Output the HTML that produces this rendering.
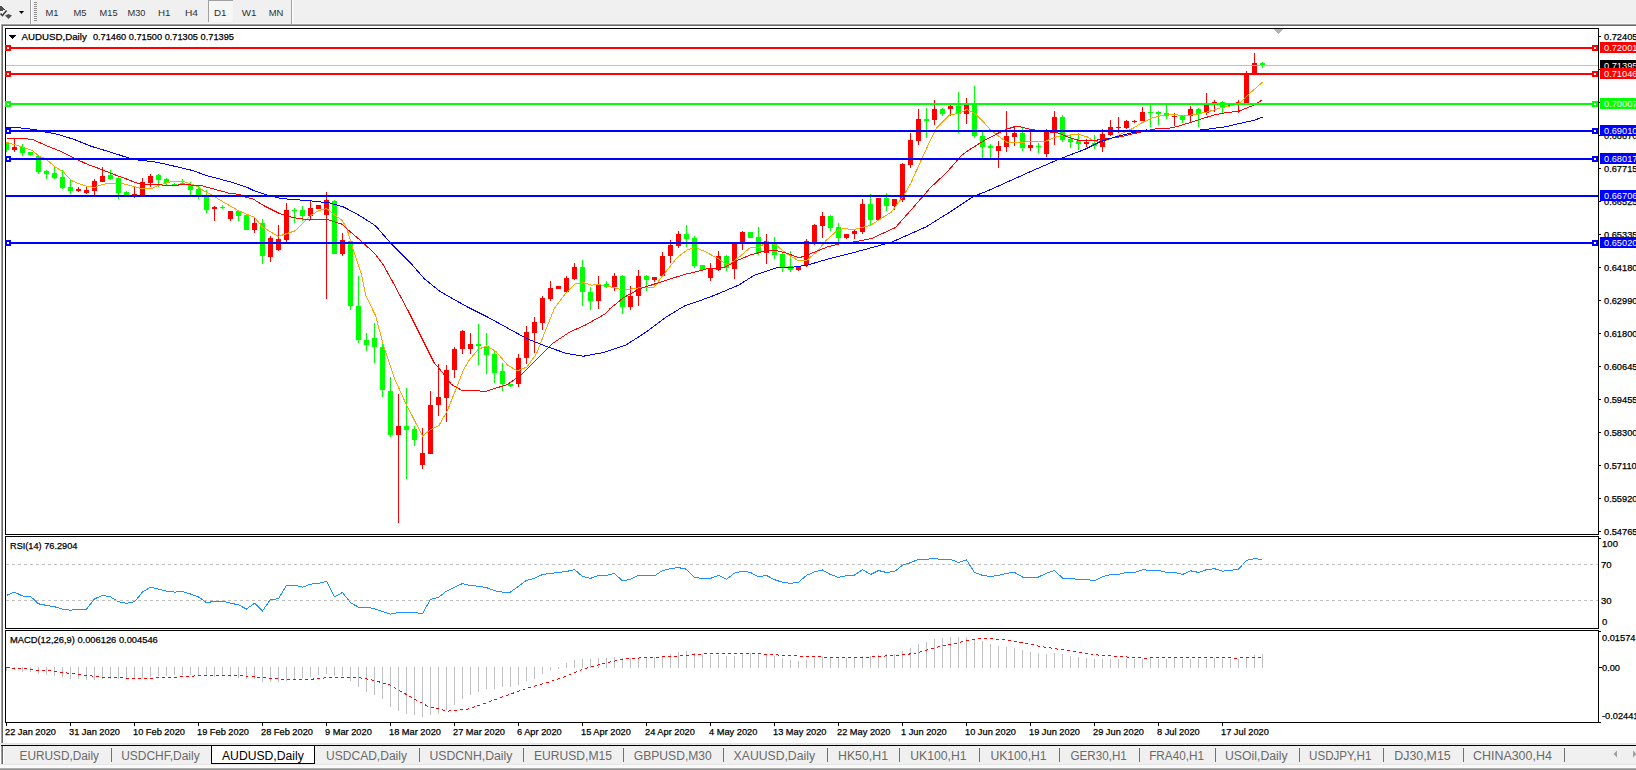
<!DOCTYPE html><html><head><meta charset="utf-8"><style>html,body{margin:0;padding:0;width:1636px;height:770px;overflow:hidden;background:#fff}svg{display:block}text{font-family:'Liberation Sans',sans-serif} text.b{stroke:currentColor;stroke-width:0.25px}</style></head><body>
<svg width="1636" height="770" viewBox="0 0 1636 770" shape-rendering="crispEdges">
<rect x="0" y="0" width="1636" height="770" fill="#ffffff"/>
<rect x="0" y="0" width="1636" height="24" fill="#f0f0f0"/>
<rect x="0" y="23" width="1636" height="1" fill="#f6f6f6"/>
<rect x="1" y="24" width="1636" height="1" fill="#a0a0a0"/>
<rect x="2" y="25" width="1636" height="1" fill="#696969"/>
<rect x="1" y="24" width="1" height="719" fill="#a0a0a0"/>
<rect x="2" y="25" width="1" height="718" fill="#696969"/>
<rect x="0" y="743" width="1636" height="1" fill="#e4e4e4"/>
<rect x="5.5" y="28.5" width="1593" height="506" fill="none" stroke="#000" stroke-width="1"/>
<rect x="5.5" y="536.5" width="1593" height="92" fill="none" stroke="#000" stroke-width="1"/>
<rect x="5.5" y="630.5" width="1593" height="92" fill="none" stroke="#000" stroke-width="1"/>
<rect x="30" y="0" width="1" height="24" fill="#a0a0a0"/>
<rect x="31" y="0" width="1" height="24" fill="#ffffff"/>
<rect x="34" y="2" width="3" height="1" fill="#909090"/>
<rect x="34" y="4" width="3" height="1" fill="#909090"/>
<rect x="34" y="6" width="3" height="1" fill="#909090"/>
<rect x="34" y="8" width="3" height="1" fill="#909090"/>
<rect x="34" y="10" width="3" height="1" fill="#909090"/>
<rect x="34" y="12" width="3" height="1" fill="#909090"/>
<rect x="34" y="14" width="3" height="1" fill="#909090"/>
<rect x="34" y="16" width="3" height="1" fill="#909090"/>
<rect x="34" y="18" width="3" height="1" fill="#909090"/>
<rect x="34" y="20" width="3" height="1" fill="#909090"/>
<rect x="291" y="0" width="1" height="24" fill="#a0a0a0"/>
<rect x="292" y="0" width="1" height="24" fill="#ffffff"/>
<rect x="208" y="0" width="25" height="22" fill="#f6f6f6"/>
<rect x="208" y="0" width="1" height="22" fill="#a0a0a0"/>
<rect x="208" y="0" width="25" height="1" fill="#a0a0a0"/>
<text x="45.5" y="16" font-size="9.5" fill="#303030" text-anchor="start" font-weight="normal" textLength="13" lengthAdjust="spacingAndGlyphs">M1</text>
<text x="73.4" y="16" font-size="9.5" fill="#303030" text-anchor="start" font-weight="normal" textLength="13" lengthAdjust="spacingAndGlyphs">M5</text>
<text x="99.6" y="16" font-size="9.5" fill="#303030" text-anchor="start" font-weight="normal" textLength="18" lengthAdjust="spacingAndGlyphs">M15</text>
<text x="127.5" y="16" font-size="9.5" fill="#303030" text-anchor="start" font-weight="normal" textLength="18" lengthAdjust="spacingAndGlyphs">M30</text>
<text x="158" y="16" font-size="9.5" fill="#303030" text-anchor="start" font-weight="normal" textLength="12.5" lengthAdjust="spacingAndGlyphs">H1</text>
<text x="185" y="16" font-size="9.5" fill="#303030" text-anchor="start" font-weight="normal" textLength="13" lengthAdjust="spacingAndGlyphs">H4</text>
<text x="214" y="16" font-size="9.5" fill="#303030" text-anchor="start" font-weight="normal" textLength="12.5" lengthAdjust="spacingAndGlyphs">D1</text>
<text x="241.7" y="16" font-size="9.5" fill="#303030" text-anchor="start" font-weight="normal" textLength="14.7" lengthAdjust="spacingAndGlyphs">W1</text>
<text x="268.7" y="16" font-size="9.5" fill="#303030" text-anchor="start" font-weight="normal" textLength="14.6" lengthAdjust="spacingAndGlyphs">MN</text>
<path d="M0 6.5 L1.5 6 L5 9.3 L3.5 10.5 L0 10.5 Z" fill="#505050"/>
<path d="M0.5 13.5 L2.4 15.5 L6.6 10.4" stroke="#404040" stroke-width="1.6" fill="none" shape-rendering="geometricPrecision"/>
<path d="M5 15.5 L8.5 14 L12 15.5 L8.5 19 Z" fill="#505050" shape-rendering="geometricPrecision"/>
<path d="M19 11 L24 11 L21.5 14 Z" fill="#000" shape-rendering="geometricPrecision"/>
<rect x="3" y="746" width="1633" height="18" fill="#f0f0f0"/>
<rect x="0" y="744" width="1636" height="1" fill="#e8e8e8"/>
<rect x="1" y="745" width="1636" height="1" fill="#000"/>
<rect x="1" y="746" width="1" height="18" fill="#a0a0a0"/>
<rect x="2" y="746" width="1" height="18" fill="#696969"/>
<rect x="3" y="746" width="1" height="18" fill="#ffffff"/>
<rect x="0" y="764" width="1636" height="1" fill="#e6e6e6"/>
<rect x="0" y="765" width="1636" height="3" fill="#fafafa"/>
<rect x="0" y="768" width="1636" height="1" fill="#b0b0b0"/>
<rect x="0" y="769" width="1636" height="1" fill="#909090"/>
<rect x="211" y="745" width="104" height="19" fill="#000"/>
<rect x="212" y="746" width="102" height="17" fill="#fff"/>
<text x="19.5" y="760" font-size="12" fill="#6a6a6a" text-anchor="start" font-weight="normal" textLength="79.5" lengthAdjust="spacingAndGlyphs">EURUSD,Daily</text>
<text x="121.2" y="760" font-size="12" fill="#6a6a6a" text-anchor="start" font-weight="normal" textLength="78.5" lengthAdjust="spacingAndGlyphs">USDCHF,Daily</text>
<text x="326" y="760" font-size="12" fill="#6a6a6a" text-anchor="start" font-weight="normal" textLength="81" lengthAdjust="spacingAndGlyphs">USDCAD,Daily</text>
<text x="429.4" y="760" font-size="12" fill="#6a6a6a" text-anchor="start" font-weight="normal" textLength="83" lengthAdjust="spacingAndGlyphs">USDCNH,Daily</text>
<text x="534" y="760" font-size="12" fill="#6a6a6a" text-anchor="start" font-weight="normal" textLength="78" lengthAdjust="spacingAndGlyphs">EURUSD,M15</text>
<text x="633.8" y="760" font-size="12" fill="#6a6a6a" text-anchor="start" font-weight="normal" textLength="78" lengthAdjust="spacingAndGlyphs">GBPUSD,M30</text>
<text x="733.6" y="760" font-size="12" fill="#6a6a6a" text-anchor="start" font-weight="normal" textLength="81.4" lengthAdjust="spacingAndGlyphs">XAUUSD,Daily</text>
<text x="838" y="760" font-size="12" fill="#6a6a6a" text-anchor="start" font-weight="normal" textLength="50" lengthAdjust="spacingAndGlyphs">HK50,H1</text>
<text x="910.3" y="760" font-size="12" fill="#6a6a6a" text-anchor="start" font-weight="normal" textLength="56.2" lengthAdjust="spacingAndGlyphs">UK100,H1</text>
<text x="990.4" y="760" font-size="12" fill="#6a6a6a" text-anchor="start" font-weight="normal" textLength="56.2" lengthAdjust="spacingAndGlyphs">UK100,H1</text>
<text x="1070.5" y="760" font-size="12" fill="#6a6a6a" text-anchor="start" font-weight="normal" textLength="56.3" lengthAdjust="spacingAndGlyphs">GER30,H1</text>
<text x="1149.2" y="760" font-size="12" fill="#6a6a6a" text-anchor="start" font-weight="normal" textLength="54.8" lengthAdjust="spacingAndGlyphs">FRA40,H1</text>
<text x="1225" y="760" font-size="12" fill="#6a6a6a" text-anchor="start" font-weight="normal" textLength="62.6" lengthAdjust="spacingAndGlyphs">USOil,Daily</text>
<text x="1309" y="760" font-size="12" fill="#6a6a6a" text-anchor="start" font-weight="normal" textLength="62.4" lengthAdjust="spacingAndGlyphs">USDJPY,H1</text>
<text x="1394.3" y="760" font-size="12" fill="#6a6a6a" text-anchor="start" font-weight="normal" textLength="56.4" lengthAdjust="spacingAndGlyphs">DJ30,M15</text>
<text x="1473" y="760" font-size="12" fill="#6a6a6a" text-anchor="start" font-weight="normal" textLength="78.8" lengthAdjust="spacingAndGlyphs">CHINA300,H4</text>
<text x="222" y="760" font-size="12" fill="#000" text-anchor="start" font-weight="normal" textLength="81.8" lengthAdjust="spacingAndGlyphs">AUDUSD,Daily</text>
<rect x="111" y="748" width="1" height="14" fill="#707070"/>
<rect x="419" y="748" width="1" height="14" fill="#707070"/>
<rect x="523" y="748" width="1" height="14" fill="#707070"/>
<rect x="623" y="748" width="1" height="14" fill="#707070"/>
<rect x="723" y="748" width="1" height="14" fill="#707070"/>
<rect x="827" y="748" width="1" height="14" fill="#707070"/>
<rect x="899" y="748" width="1" height="14" fill="#707070"/>
<rect x="979" y="748" width="1" height="14" fill="#707070"/>
<rect x="1059" y="748" width="1" height="14" fill="#707070"/>
<rect x="1139" y="748" width="1" height="14" fill="#707070"/>
<rect x="1215" y="748" width="1" height="14" fill="#707070"/>
<rect x="1299" y="748" width="1" height="14" fill="#707070"/>
<rect x="1383" y="748" width="1" height="14" fill="#707070"/>
<rect x="1463" y="748" width="1" height="14" fill="#707070"/>
<rect x="1564" y="748" width="1" height="14" fill="#707070"/>
<path d="M1613.5 754 L1617 750.5 L1617 757.5 Z" fill="#a0a0a0" shape-rendering="geometricPrecision"/>
<path d="M1633 750.5 L1636.5 754 L1633 757.5 Z" fill="#a0a0a0" shape-rendering="geometricPrecision"/>
<defs><clipPath id="cm"><rect x="6" y="29" width="1592" height="505"/></clipPath><clipPath id="cr"><rect x="6" y="537" width="1592" height="91"/></clipPath><clipPath id="cd"><rect x="6" y="631" width="1592" height="91"/></clipPath></defs>
<g clip-path="url(#cm)">
<rect x="6" y="142" width="1" height="10" fill="#00ff00"/>
<rect x="4" y="143" width="5" height="7" fill="#00ff00"/>
<rect x="14" y="138" width="1" height="14" fill="#ff0000"/>
<rect x="12" y="147" width="5" height="3" fill="#ff0000"/>
<rect x="22" y="144" width="1" height="12" fill="#00ff00"/>
<rect x="20" y="147" width="5" height="6" fill="#00ff00"/>
<rect x="30" y="152" width="1" height="4" fill="#00ff00"/>
<rect x="28" y="152" width="5" height="3" fill="#00ff00"/>
<rect x="38" y="156" width="1" height="18" fill="#00ff00"/>
<rect x="36" y="156" width="5" height="16" fill="#00ff00"/>
<rect x="46" y="170" width="1" height="9" fill="#00ff00"/>
<rect x="44" y="171" width="5" height="3" fill="#00ff00"/>
<rect x="54" y="167" width="1" height="12" fill="#00ff00"/>
<rect x="52" y="173" width="5" height="5" fill="#00ff00"/>
<rect x="62" y="170" width="1" height="19" fill="#00ff00"/>
<rect x="60" y="177" width="5" height="11" fill="#00ff00"/>
<rect x="70" y="180" width="1" height="14" fill="#00ff00"/>
<rect x="68" y="187" width="5" height="4" fill="#00ff00"/>
<rect x="78" y="187" width="1" height="5" fill="#ff0000"/>
<rect x="76" y="189" width="5" height="2" fill="#ff0000"/>
<rect x="86" y="187" width="1" height="7" fill="#ff0000"/>
<rect x="84" y="190" width="5" height="3" fill="#ff0000"/>
<rect x="94" y="179" width="1" height="16" fill="#ff0000"/>
<rect x="92" y="181" width="5" height="10" fill="#ff0000"/>
<rect x="102" y="167" width="1" height="15" fill="#ff0000"/>
<rect x="100" y="176" width="5" height="6" fill="#ff0000"/>
<rect x="110" y="170" width="1" height="10" fill="#00ff00"/>
<rect x="108" y="175" width="5" height="4" fill="#00ff00"/>
<rect x="118" y="176" width="1" height="23" fill="#00ff00"/>
<rect x="116" y="178" width="5" height="15" fill="#00ff00"/>
<rect x="126" y="191" width="1" height="5" fill="#00ff00"/>
<rect x="124" y="192" width="5" height="3" fill="#00ff00"/>
<rect x="134" y="186" width="1" height="12" fill="#ff0000"/>
<rect x="132" y="194" width="5" height="2" fill="#ff0000"/>
<rect x="142" y="178" width="1" height="18" fill="#ff0000"/>
<rect x="140" y="182" width="5" height="13" fill="#ff0000"/>
<rect x="150" y="174" width="1" height="13" fill="#ff0000"/>
<rect x="148" y="176" width="5" height="7" fill="#ff0000"/>
<rect x="158" y="174" width="1" height="13" fill="#00ff00"/>
<rect x="156" y="175" width="5" height="5" fill="#00ff00"/>
<rect x="166" y="178" width="1" height="7" fill="#00ff00"/>
<rect x="164" y="179" width="5" height="4" fill="#00ff00"/>
<rect x="174" y="183" width="1" height="2" fill="#00ff00"/>
<rect x="172" y="184" width="5" height="1" fill="#00ff00"/>
<rect x="182" y="179" width="1" height="5" fill="#00ff00"/>
<rect x="180" y="183" width="5" height="1" fill="#00ff00"/>
<rect x="190" y="182" width="1" height="13" fill="#00ff00"/>
<rect x="188" y="185" width="5" height="5" fill="#00ff00"/>
<rect x="198" y="186" width="1" height="13" fill="#00ff00"/>
<rect x="196" y="189" width="5" height="6" fill="#00ff00"/>
<rect x="206" y="190" width="1" height="23" fill="#00ff00"/>
<rect x="204" y="197" width="5" height="13" fill="#00ff00"/>
<rect x="214" y="206" width="1" height="15" fill="#ff0000"/>
<rect x="212" y="207" width="5" height="2" fill="#ff0000"/>
<rect x="222" y="205" width="1" height="4" fill="#00ff00"/>
<rect x="220" y="207" width="5" height="1" fill="#00ff00"/>
<rect x="230" y="211" width="1" height="10" fill="#ff0000"/>
<rect x="228" y="211" width="5" height="8" fill="#ff0000"/>
<rect x="238" y="211" width="1" height="10" fill="#00ff00"/>
<rect x="236" y="211" width="5" height="5" fill="#00ff00"/>
<rect x="246" y="215" width="1" height="15" fill="#00ff00"/>
<rect x="244" y="215" width="5" height="15" fill="#00ff00"/>
<rect x="254" y="218" width="1" height="15" fill="#ff0000"/>
<rect x="252" y="223" width="5" height="7" fill="#ff0000"/>
<rect x="262" y="219" width="1" height="45" fill="#00ff00"/>
<rect x="260" y="223" width="5" height="33" fill="#00ff00"/>
<rect x="270" y="236" width="1" height="26" fill="#ff0000"/>
<rect x="268" y="238" width="5" height="19" fill="#ff0000"/>
<rect x="278" y="225" width="1" height="26" fill="#ff0000"/>
<rect x="276" y="239" width="5" height="11" fill="#ff0000"/>
<rect x="286" y="203" width="1" height="39" fill="#ff0000"/>
<rect x="284" y="210" width="5" height="30" fill="#ff0000"/>
<rect x="294" y="208" width="1" height="15" fill="#00ff00"/>
<rect x="292" y="210" width="5" height="1" fill="#00ff00"/>
<rect x="302" y="206" width="1" height="15" fill="#00ff00"/>
<rect x="300" y="210" width="5" height="6" fill="#00ff00"/>
<rect x="310" y="200" width="1" height="20" fill="#ff0000"/>
<rect x="308" y="208" width="5" height="8" fill="#ff0000"/>
<rect x="318" y="205" width="1" height="4" fill="#ff0000"/>
<rect x="316" y="205" width="5" height="4" fill="#ff0000"/>
<rect x="326" y="192" width="1" height="107" fill="#ff0000"/>
<rect x="324" y="200" width="5" height="15" fill="#ff0000"/>
<rect x="334" y="200" width="1" height="54" fill="#00ff00"/>
<rect x="332" y="201" width="5" height="53" fill="#00ff00"/>
<rect x="342" y="233" width="1" height="23" fill="#ff0000"/>
<rect x="340" y="240" width="5" height="14" fill="#ff0000"/>
<rect x="350" y="239" width="1" height="71" fill="#00ff00"/>
<rect x="348" y="241" width="5" height="65" fill="#00ff00"/>
<rect x="358" y="276" width="1" height="67" fill="#00ff00"/>
<rect x="356" y="306" width="5" height="34" fill="#00ff00"/>
<rect x="366" y="333" width="1" height="18" fill="#00ff00"/>
<rect x="364" y="340" width="5" height="5" fill="#00ff00"/>
<rect x="374" y="323" width="1" height="40" fill="#00ff00"/>
<rect x="372" y="338" width="5" height="9" fill="#00ff00"/>
<rect x="382" y="343" width="1" height="54" fill="#00ff00"/>
<rect x="380" y="347" width="5" height="43" fill="#00ff00"/>
<rect x="390" y="377" width="1" height="60" fill="#00ff00"/>
<rect x="388" y="391" width="5" height="44" fill="#00ff00"/>
<rect x="398" y="394" width="1" height="129" fill="#ff0000"/>
<rect x="396" y="426" width="5" height="9" fill="#ff0000"/>
<rect x="406" y="388" width="1" height="91" fill="#00ff00"/>
<rect x="404" y="426" width="5" height="4" fill="#00ff00"/>
<rect x="414" y="426" width="1" height="20" fill="#00ff00"/>
<rect x="412" y="429" width="5" height="11" fill="#00ff00"/>
<rect x="422" y="428" width="1" height="41" fill="#ff0000"/>
<rect x="420" y="453" width="5" height="12" fill="#ff0000"/>
<rect x="430" y="391" width="1" height="63" fill="#ff0000"/>
<rect x="428" y="405" width="5" height="49" fill="#ff0000"/>
<rect x="438" y="364" width="1" height="52" fill="#ff0000"/>
<rect x="436" y="397" width="5" height="8" fill="#ff0000"/>
<rect x="446" y="365" width="1" height="57" fill="#ff0000"/>
<rect x="444" y="370" width="5" height="28" fill="#ff0000"/>
<rect x="454" y="347" width="1" height="31" fill="#ff0000"/>
<rect x="452" y="349" width="5" height="21" fill="#ff0000"/>
<rect x="462" y="330" width="1" height="24" fill="#ff0000"/>
<rect x="460" y="331" width="5" height="18" fill="#ff0000"/>
<rect x="470" y="333" width="1" height="21" fill="#ff0000"/>
<rect x="468" y="344" width="5" height="5" fill="#ff0000"/>
<rect x="478" y="324" width="1" height="41" fill="#00ff00"/>
<rect x="476" y="344" width="5" height="2" fill="#00ff00"/>
<rect x="486" y="333" width="1" height="41" fill="#00ff00"/>
<rect x="484" y="346" width="5" height="9" fill="#00ff00"/>
<rect x="494" y="351" width="1" height="32" fill="#00ff00"/>
<rect x="492" y="354" width="5" height="19" fill="#00ff00"/>
<rect x="502" y="363" width="1" height="28" fill="#00ff00"/>
<rect x="500" y="371" width="5" height="13" fill="#00ff00"/>
<rect x="510" y="384" width="1" height="3" fill="#00ff00"/>
<rect x="508" y="384" width="5" height="2" fill="#00ff00"/>
<rect x="518" y="354" width="1" height="33" fill="#ff0000"/>
<rect x="516" y="358" width="5" height="26" fill="#ff0000"/>
<rect x="526" y="326" width="1" height="38" fill="#ff0000"/>
<rect x="524" y="332" width="5" height="26" fill="#ff0000"/>
<rect x="534" y="317" width="1" height="36" fill="#ff0000"/>
<rect x="532" y="322" width="5" height="11" fill="#ff0000"/>
<rect x="542" y="296" width="1" height="34" fill="#ff0000"/>
<rect x="540" y="298" width="5" height="25" fill="#ff0000"/>
<rect x="550" y="281" width="1" height="20" fill="#ff0000"/>
<rect x="548" y="288" width="5" height="11" fill="#ff0000"/>
<rect x="558" y="286" width="1" height="3" fill="#ff0000"/>
<rect x="556" y="286" width="5" height="3" fill="#ff0000"/>
<rect x="566" y="276" width="1" height="16" fill="#ff0000"/>
<rect x="564" y="278" width="5" height="14" fill="#ff0000"/>
<rect x="574" y="263" width="1" height="17" fill="#ff0000"/>
<rect x="572" y="267" width="5" height="12" fill="#ff0000"/>
<rect x="582" y="260" width="1" height="46" fill="#00ff00"/>
<rect x="580" y="267" width="5" height="25" fill="#00ff00"/>
<rect x="590" y="287" width="1" height="23" fill="#00ff00"/>
<rect x="588" y="292" width="5" height="9" fill="#00ff00"/>
<rect x="598" y="276" width="1" height="33" fill="#ff0000"/>
<rect x="596" y="285" width="5" height="16" fill="#ff0000"/>
<rect x="606" y="281" width="1" height="7" fill="#00ff00"/>
<rect x="604" y="284" width="5" height="3" fill="#00ff00"/>
<rect x="614" y="273" width="1" height="18" fill="#ff0000"/>
<rect x="612" y="276" width="5" height="11" fill="#ff0000"/>
<rect x="622" y="275" width="1" height="39" fill="#00ff00"/>
<rect x="620" y="276" width="5" height="31" fill="#00ff00"/>
<rect x="630" y="286" width="1" height="24" fill="#ff0000"/>
<rect x="628" y="296" width="5" height="11" fill="#ff0000"/>
<rect x="638" y="270" width="1" height="36" fill="#ff0000"/>
<rect x="636" y="276" width="5" height="20" fill="#ff0000"/>
<rect x="646" y="275" width="1" height="16" fill="#00ff00"/>
<rect x="644" y="276" width="5" height="4" fill="#00ff00"/>
<rect x="654" y="277" width="1" height="5" fill="#ff0000"/>
<rect x="652" y="277" width="5" height="3" fill="#ff0000"/>
<rect x="662" y="252" width="1" height="25" fill="#ff0000"/>
<rect x="660" y="256" width="5" height="20" fill="#ff0000"/>
<rect x="670" y="240" width="1" height="23" fill="#ff0000"/>
<rect x="668" y="245" width="5" height="11" fill="#ff0000"/>
<rect x="678" y="231" width="1" height="17" fill="#ff0000"/>
<rect x="676" y="234" width="5" height="12" fill="#ff0000"/>
<rect x="686" y="225" width="1" height="22" fill="#00ff00"/>
<rect x="684" y="234" width="5" height="5" fill="#00ff00"/>
<rect x="694" y="236" width="1" height="32" fill="#00ff00"/>
<rect x="692" y="238" width="5" height="28" fill="#00ff00"/>
<rect x="702" y="265" width="1" height="5" fill="#00ff00"/>
<rect x="700" y="265" width="5" height="5" fill="#00ff00"/>
<rect x="710" y="263" width="1" height="18" fill="#ff0000"/>
<rect x="708" y="269" width="5" height="9" fill="#ff0000"/>
<rect x="718" y="251" width="1" height="20" fill="#ff0000"/>
<rect x="716" y="256" width="5" height="14" fill="#ff0000"/>
<rect x="726" y="255" width="1" height="16" fill="#00ff00"/>
<rect x="724" y="256" width="5" height="12" fill="#00ff00"/>
<rect x="734" y="243" width="1" height="36" fill="#ff0000"/>
<rect x="732" y="243" width="5" height="26" fill="#ff0000"/>
<rect x="742" y="231" width="1" height="19" fill="#ff0000"/>
<rect x="740" y="232" width="5" height="12" fill="#ff0000"/>
<rect x="750" y="232" width="1" height="6" fill="#00ff00"/>
<rect x="748" y="232" width="5" height="6" fill="#00ff00"/>
<rect x="758" y="227" width="1" height="28" fill="#00ff00"/>
<rect x="756" y="237" width="5" height="16" fill="#00ff00"/>
<rect x="766" y="234" width="1" height="30" fill="#ff0000"/>
<rect x="764" y="241" width="5" height="12" fill="#ff0000"/>
<rect x="774" y="237" width="1" height="22" fill="#00ff00"/>
<rect x="772" y="243" width="5" height="12" fill="#00ff00"/>
<rect x="782" y="253" width="1" height="19" fill="#00ff00"/>
<rect x="780" y="254" width="5" height="13" fill="#00ff00"/>
<rect x="790" y="251" width="1" height="21" fill="#00ff00"/>
<rect x="788" y="266" width="5" height="4" fill="#00ff00"/>
<rect x="798" y="266" width="1" height="5" fill="#ff0000"/>
<rect x="796" y="267" width="5" height="3" fill="#ff0000"/>
<rect x="806" y="239" width="1" height="28" fill="#ff0000"/>
<rect x="804" y="241" width="5" height="24" fill="#ff0000"/>
<rect x="814" y="224" width="1" height="21" fill="#ff0000"/>
<rect x="812" y="225" width="5" height="18" fill="#ff0000"/>
<rect x="822" y="212" width="1" height="26" fill="#ff0000"/>
<rect x="820" y="216" width="5" height="10" fill="#ff0000"/>
<rect x="830" y="215" width="1" height="16" fill="#00ff00"/>
<rect x="828" y="216" width="5" height="12" fill="#00ff00"/>
<rect x="838" y="223" width="1" height="19" fill="#00ff00"/>
<rect x="836" y="227" width="5" height="11" fill="#00ff00"/>
<rect x="846" y="234" width="1" height="5" fill="#ff0000"/>
<rect x="844" y="234" width="5" height="4" fill="#ff0000"/>
<rect x="854" y="230" width="1" height="9" fill="#ff0000"/>
<rect x="852" y="231" width="5" height="3" fill="#ff0000"/>
<rect x="862" y="199" width="1" height="35" fill="#ff0000"/>
<rect x="860" y="204" width="5" height="28" fill="#ff0000"/>
<rect x="870" y="194" width="1" height="31" fill="#00ff00"/>
<rect x="868" y="204" width="5" height="16" fill="#00ff00"/>
<rect x="878" y="198" width="1" height="23" fill="#ff0000"/>
<rect x="876" y="198" width="5" height="22" fill="#ff0000"/>
<rect x="886" y="193" width="1" height="18" fill="#00ff00"/>
<rect x="884" y="198" width="5" height="8" fill="#00ff00"/>
<rect x="894" y="199" width="1" height="11" fill="#ff0000"/>
<rect x="892" y="199" width="5" height="7" fill="#ff0000"/>
<rect x="902" y="163" width="1" height="39" fill="#ff0000"/>
<rect x="900" y="164" width="5" height="36" fill="#ff0000"/>
<rect x="910" y="133" width="1" height="35" fill="#ff0000"/>
<rect x="908" y="140" width="5" height="25" fill="#ff0000"/>
<rect x="918" y="109" width="1" height="36" fill="#ff0000"/>
<rect x="916" y="119" width="5" height="22" fill="#ff0000"/>
<rect x="926" y="108" width="1" height="30" fill="#00ff00"/>
<rect x="924" y="119" width="5" height="2" fill="#00ff00"/>
<rect x="934" y="100" width="1" height="25" fill="#ff0000"/>
<rect x="932" y="109" width="5" height="11" fill="#ff0000"/>
<rect x="942" y="108" width="1" height="8" fill="#00ff00"/>
<rect x="940" y="109" width="5" height="5" fill="#00ff00"/>
<rect x="950" y="105" width="1" height="11" fill="#ff0000"/>
<rect x="948" y="106" width="5" height="3" fill="#ff0000"/>
<rect x="958" y="92" width="1" height="41" fill="#00ff00"/>
<rect x="956" y="106" width="5" height="8" fill="#00ff00"/>
<rect x="966" y="98" width="1" height="26" fill="#ff0000"/>
<rect x="964" y="105" width="5" height="9" fill="#ff0000"/>
<rect x="974" y="86" width="1" height="52" fill="#00ff00"/>
<rect x="972" y="104" width="5" height="32" fill="#00ff00"/>
<rect x="982" y="130" width="1" height="30" fill="#00ff00"/>
<rect x="980" y="136" width="5" height="11" fill="#00ff00"/>
<rect x="990" y="144" width="1" height="14" fill="#00ff00"/>
<rect x="988" y="146" width="5" height="2" fill="#00ff00"/>
<rect x="998" y="141" width="1" height="27" fill="#ff0000"/>
<rect x="996" y="146" width="5" height="5" fill="#ff0000"/>
<rect x="1006" y="111" width="1" height="41" fill="#ff0000"/>
<rect x="1004" y="136" width="5" height="11" fill="#ff0000"/>
<rect x="1014" y="126" width="1" height="20" fill="#ff0000"/>
<rect x="1012" y="133" width="5" height="4" fill="#ff0000"/>
<rect x="1022" y="128" width="1" height="23" fill="#00ff00"/>
<rect x="1020" y="133" width="5" height="15" fill="#00ff00"/>
<rect x="1030" y="129" width="1" height="22" fill="#ff0000"/>
<rect x="1028" y="145" width="5" height="3" fill="#ff0000"/>
<rect x="1038" y="143" width="1" height="10" fill="#00ff00"/>
<rect x="1036" y="146" width="5" height="1" fill="#00ff00"/>
<rect x="1046" y="129" width="1" height="28" fill="#ff0000"/>
<rect x="1044" y="132" width="5" height="22" fill="#ff0000"/>
<rect x="1054" y="111" width="1" height="34" fill="#ff0000"/>
<rect x="1052" y="117" width="5" height="14" fill="#ff0000"/>
<rect x="1062" y="115" width="1" height="27" fill="#00ff00"/>
<rect x="1060" y="117" width="5" height="23" fill="#00ff00"/>
<rect x="1070" y="134" width="1" height="14" fill="#00ff00"/>
<rect x="1068" y="139" width="5" height="3" fill="#00ff00"/>
<rect x="1078" y="133" width="1" height="17" fill="#00ff00"/>
<rect x="1076" y="141" width="5" height="3" fill="#00ff00"/>
<rect x="1086" y="139" width="1" height="8" fill="#ff0000"/>
<rect x="1084" y="142" width="5" height="2" fill="#ff0000"/>
<rect x="1094" y="135" width="1" height="14" fill="#00ff00"/>
<rect x="1092" y="143" width="5" height="3" fill="#00ff00"/>
<rect x="1102" y="129" width="1" height="23" fill="#ff0000"/>
<rect x="1100" y="134" width="5" height="13" fill="#ff0000"/>
<rect x="1110" y="120" width="1" height="16" fill="#ff0000"/>
<rect x="1108" y="127" width="5" height="8" fill="#ff0000"/>
<rect x="1118" y="117" width="1" height="16" fill="#ff0000"/>
<rect x="1116" y="127" width="5" height="1" fill="#ff0000"/>
<rect x="1126" y="120" width="1" height="9" fill="#ff0000"/>
<rect x="1124" y="121" width="5" height="7" fill="#ff0000"/>
<rect x="1134" y="120" width="1" height="3" fill="#ff0000"/>
<rect x="1132" y="121" width="5" height="1" fill="#ff0000"/>
<rect x="1142" y="107" width="1" height="14" fill="#ff0000"/>
<rect x="1140" y="112" width="5" height="9" fill="#ff0000"/>
<rect x="1150" y="104" width="1" height="23" fill="#00ff00"/>
<rect x="1148" y="112" width="5" height="1" fill="#00ff00"/>
<rect x="1158" y="111" width="1" height="14" fill="#00ff00"/>
<rect x="1156" y="112" width="5" height="2" fill="#00ff00"/>
<rect x="1166" y="104" width="1" height="15" fill="#00ff00"/>
<rect x="1164" y="113" width="5" height="3" fill="#00ff00"/>
<rect x="1174" y="113" width="1" height="13" fill="#ff0000"/>
<rect x="1172" y="116" width="5" height="1" fill="#ff0000"/>
<rect x="1182" y="115" width="1" height="8" fill="#00ff00"/>
<rect x="1180" y="116" width="5" height="4" fill="#00ff00"/>
<rect x="1190" y="106" width="1" height="17" fill="#ff0000"/>
<rect x="1188" y="109" width="5" height="7" fill="#ff0000"/>
<rect x="1198" y="108" width="1" height="19" fill="#00ff00"/>
<rect x="1196" y="109" width="5" height="5" fill="#00ff00"/>
<rect x="1206" y="93" width="1" height="22" fill="#ff0000"/>
<rect x="1204" y="105" width="5" height="8" fill="#ff0000"/>
<rect x="1214" y="100" width="1" height="12" fill="#ff0000"/>
<rect x="1212" y="102" width="5" height="1" fill="#ff0000"/>
<rect x="1222" y="101" width="1" height="13" fill="#00ff00"/>
<rect x="1220" y="102" width="5" height="5" fill="#00ff00"/>
<rect x="1230" y="104" width="1" height="2" fill="#ff0000"/>
<rect x="1228" y="105" width="5" height="1" fill="#ff0000"/>
<rect x="1238" y="100" width="1" height="13" fill="#ff0000"/>
<rect x="1236" y="102" width="5" height="1" fill="#ff0000"/>
<rect x="1246" y="71" width="1" height="32" fill="#ff0000"/>
<rect x="1244" y="75" width="5" height="28" fill="#ff0000"/>
<rect x="1254" y="53" width="1" height="20" fill="#ff0000"/>
<rect x="1252" y="63" width="5" height="10" fill="#ff0000"/>
<rect x="1262" y="62" width="1" height="6" fill="#00ff00"/>
<rect x="1260" y="63" width="5" height="3" fill="#00ff00"/>
<polyline fill="none" stroke="#ffa500" stroke-width="1"  points="6.5,142.3 10.5,143.5 18.7,145.9 26.9,148.6 32.3,150.5 38.7,155.9 46.0,159.1 55.0,166.8 63.2,171.8 71.4,180.5 78.7,183.6 86.9,186.4 95.0,187.3 102.3,184.5 109.5,183.2 118.5,183.2 124.5,184.1 133.5,186.4 140.9,188.4 151.8,188.4 160.9,184.5 172.7,181.4 183.5,181.4 190.0,183.6 197.2,186.4 204.5,191.4 210.9,194.5 215.5,197.3 224.5,202.7 238.1,210.5 247.2,214.5 254.5,217.3 262.5,227.1 278.2,236.4 286.8,233.6 295.4,230.7 309.5,216.4 318.2,210.7 326.8,208.6 335.4,215.7 342.5,220.7 346.8,228.6 352.5,247.1 361.1,272.9 365.8,295.3 375.6,315.8 383.4,345.0 395.1,380.0 406.5,404.9 422.5,436.0 430.8,429.5 439.0,425.4 447.2,411.0 455.4,390.5 463.5,370.0 468.5,361.1 478.2,349.4 486.4,345.9 495.8,351.4 507.5,365.0 517.2,370.9 527.0,367.0 536.7,353.3 546.5,328.0 554.3,308.5 566.0,292.9 574.7,284.1 583.5,282.7 591.3,285.1 599.1,284.7 606.6,285.9 623.5,290.1 638.7,287.9 653.9,287.2 664.0,274.1 677.5,257.2 687.6,249.6 695.2,247.4 704.5,251.3 718.0,258.5 727.6,265.3 738.0,258.0 750.5,247.4 758.8,247.4 768.1,241.4 776.5,245.5 786.8,253.8 797.2,260.1 806.5,260.6 818.0,250.7 826.3,240.3 836.7,231.0 844.0,228.4 853.3,229.7 870.0,225.6 891.5,212.0 903.2,196.4 911.0,182.7 920.7,161.3 930.5,139.8 936.3,128.1 950.0,114.5 959.2,113.6 966.8,109.2 975.5,113.9 981.4,119.7 990.7,130.2 1007.1,142.5 1022.3,142.1 1045.6,141.3 1055.0,137.2 1062.0,135.5 1078.9,134.5 1087.2,136.8 1093.4,140.9 1099.7,141.9 1104.9,140.9 1115.3,136.8 1125.6,131.6 1132.9,128.4 1141.2,123.2 1151.6,118.1 1162.0,115.5 1172.4,114.4 1182.8,115.5 1193.2,114.9 1208.0,111.8 1219.7,108.1 1233.7,105.2 1240.7,102.3 1248.9,94.1 1262.5,82.2"/>
<polyline fill="none" stroke="#ff0000" stroke-width="1"  points="6.5,138.4 18.7,138.4 32.3,139.3 46.0,145.5 59.5,150.9 72.3,157.3 86.9,164.1 100.5,169.1 114.1,174.5 124.5,178.2 133.5,181.8 140.9,184.1 160.9,184.5 163.5,185.5 178.1,185.5 179.0,184.4 200.9,185.5 215.4,189.5 229.0,193.2 240.0,194.5 245.4,197.3 252.5,198.6 263.9,205.7 278.2,212.9 285.4,215.7 295.4,217.9 309.5,220.0 313.9,219.3 326.8,219.3 335.4,222.1 342.5,224.3 348.3,230.0 361.9,241.7 374.6,253.4 383.4,265.1 393.1,282.6 408.7,311.9 422.4,339.2 434.1,362.6 443.8,374.2 451.3,384.4 461.5,390.1 486.0,391.3 507.5,384.5 521.1,374.8 534.8,361.1 552.3,343.6 569.9,331.9 585.5,325.0 604.5,314.3 610.0,308.7 623.5,297.7 638.7,289.2 653.9,284.2 672.4,278.3 685.9,274.1 697.7,271.5 706.2,269.0 724.7,267.3 737.0,260.6 750.5,254.9 766.1,250.7 776.5,250.7 786.8,253.3 799.3,257.8 807.6,254.9 818.0,250.7 828.4,246.6 838.8,244.0 858.3,241.2 872.0,238.3 895.4,227.6 911.0,210.0 930.5,187.6 946.1,173.0 961.7,155.4 969.5,149.6 984.9,140.2 998.9,132.8 1007.1,129.1 1016.4,126.1 1022.3,127.3 1031.6,129.6 1045.6,131.6 1057.3,132.6 1068.5,137.3 1078.9,140.4 1094.5,140.7 1102.8,138.8 1110.1,138.3 1120.5,136.8 1130.8,134.2 1143.3,131.6 1156.8,128.6 1167.2,128.6 1177.6,126.4 1188.0,123.2 1202.2,118.6 1213.9,115.1 1225.5,112.8 1239.6,111.0 1253.6,105.2 1262.5,99.9"/>
<polyline fill="none" stroke="#0000ff" stroke-width="1"  points="6.5,127.5 20.5,128.0 34.5,129.5 44.1,131.8 55.0,133.6 73.2,139.1 91.4,146.4 109.5,151.8 127.8,157.7 140.0,160.5 151.8,161.4 165.4,164.1 179.0,167.3 192.7,170.5 206.3,175.5 220.0,179.1 233.5,182.7 247.2,187.3 252.5,190.0 266.8,195.0 281.1,198.6 309.5,200.7 329.6,202.9 343.9,207.1 361.1,216.4 375.4,225.7 391.2,243.6 410.7,263.1 424.3,278.7 439.9,291.4 453.6,299.2 468.5,307.5 488.0,317.3 507.5,328.0 527.0,338.7 546.5,346.5 566.0,353.3 583.5,356.2 604.5,352.3 626.0,345.0 647.1,331.4 667.4,316.2 684.2,306.1 701.1,300.2 714.6,295.2 739.0,285.0 753.6,275.6 776.4,267.9 792.0,267.3 807.6,265.0 828.4,259.0 849.2,253.8 860.5,250.7 891.5,242.2 926.6,226.6 950.0,212.0 973.4,196.4 988.5,190.5 1034.0,170.0 1057.3,160.0 1068.5,155.5 1084.1,149.7 1099.7,141.9 1115.3,136.8 1130.8,133.1 1146.4,130.0 1190.5,131.2 1208.0,129.1 1225.5,126.8 1243.1,122.7 1253.6,120.4 1262.5,117.2"/>
</g>
<rect x="6" y="65" width="1592" height="1" fill="#c0c0c0"/>
<rect x="6" y="47" width="1592" height="2" fill="#ff0000"/>
<rect x="5" y="45" width="6" height="6" fill="#ff0000"/>
<rect x="7" y="47" width="2" height="2" fill="#ffffff"/>
<rect x="1592" y="45" width="6" height="6" fill="#ff0000"/>
<rect x="1594" y="47" width="2" height="2" fill="#ffffff"/>
<rect x="6" y="73" width="1592" height="2" fill="#ff0000"/>
<rect x="5" y="71" width="6" height="6" fill="#ff0000"/>
<rect x="7" y="73" width="2" height="2" fill="#ffffff"/>
<rect x="1592" y="71" width="6" height="6" fill="#ff0000"/>
<rect x="1594" y="73" width="2" height="2" fill="#ffffff"/>
<rect x="6" y="103" width="1592" height="2" fill="#00ff00"/>
<rect x="5" y="101" width="6" height="6" fill="#00ff00"/>
<rect x="7" y="103" width="2" height="2" fill="#ffffff"/>
<rect x="1592" y="101" width="6" height="6" fill="#00ff00"/>
<rect x="1594" y="103" width="2" height="2" fill="#ffffff"/>
<rect x="6" y="130" width="1592" height="2" fill="#0000ff"/>
<rect x="5" y="128" width="6" height="6" fill="#0000ff"/>
<rect x="7" y="130" width="2" height="2" fill="#ffffff"/>
<rect x="1592" y="128" width="6" height="6" fill="#0000ff"/>
<rect x="1594" y="130" width="2" height="2" fill="#ffffff"/>
<rect x="6" y="158" width="1592" height="2" fill="#0000ff"/>
<rect x="5" y="156" width="6" height="6" fill="#0000ff"/>
<rect x="7" y="158" width="2" height="2" fill="#ffffff"/>
<rect x="1592" y="156" width="6" height="6" fill="#0000ff"/>
<rect x="1594" y="158" width="2" height="2" fill="#ffffff"/>
<rect x="6" y="195" width="1592" height="2" fill="#0000ff"/>
<rect x="6" y="242" width="1592" height="2" fill="#0000ff"/>
<rect x="5" y="240" width="6" height="6" fill="#0000ff"/>
<rect x="7" y="242" width="2" height="2" fill="#ffffff"/>
<rect x="1592" y="240" width="6" height="6" fill="#0000ff"/>
<rect x="1594" y="242" width="2" height="2" fill="#ffffff"/>
<polyline fill="none" stroke="#1e90ff" stroke-width="1"  points="6.5,595.4 14.5,592.1 22.5,596.0 30.5,596.4 38.5,603.8 46.5,605.4 54.5,606.7 62.5,609.1 70.5,610.2 78.5,609.1 86.5,609.1 94.5,598.9 102.5,595.4 110.5,596.9 118.5,601.8 126.5,603.2 134.5,601.8 142.5,592.1 150.5,587.2 158.5,589.1 166.5,591.1 174.5,592.1 182.5,591.5 190.5,594.0 198.5,596.9 206.5,602.8 214.5,601.2 222.5,601.2 230.5,603.2 238.5,604.8 246.5,609.1 254.5,603.2 262.5,611.0 270.5,599.3 278.5,598.9 286.5,585.2 294.5,585.2 302.5,587.2 310.5,584.2 318.5,583.3 326.5,581.3 334.5,596.9 342.5,592.4 350.5,602.8 358.5,607.1 366.5,607.1 374.5,608.7 382.5,611.6 390.5,614.2 398.5,612.6 406.5,612.6 414.5,612.6 422.5,613.6 430.5,599.3 438.5,597.3 446.5,591.1 454.5,587.2 462.5,583.6 470.5,585.6 478.5,586.2 486.5,587.6 494.5,590.7 502.5,592.1 510.5,592.1 518.5,586.2 526.5,580.3 534.5,578.4 542.5,574.5 550.5,573.5 558.5,572.5 566.5,571.5 574.5,569.6 582.5,576.4 590.5,578.4 598.5,575.4 606.5,575.4 614.5,573.5 622.5,580.9 630.5,579.3 638.5,575.4 646.5,575.8 654.5,575.8 662.5,570.5 670.5,568.6 678.5,567.6 686.5,569.2 694.5,577.4 702.5,578.4 710.5,578.4 718.5,575.4 726.5,579.3 734.5,573.1 742.5,571.1 750.5,572.5 758.5,577.0 766.5,575.4 774.5,579.7 782.5,582.3 790.5,583.3 798.5,582.3 806.5,575.4 814.5,571.9 822.5,570.0 830.5,574.5 838.5,577.4 846.5,575.8 854.5,575.0 862.5,569.6 870.5,574.5 878.5,570.5 886.5,572.5 894.5,571.5 902.5,565.3 910.5,562.7 918.5,559.4 926.5,559.4 934.5,558.2 942.5,560.0 950.5,559.4 958.5,562.5 966.5,560.0 974.5,572.4 982.5,575.4 990.5,576.6 998.5,575.4 1006.5,573.3 1014.5,572.4 1022.5,577.0 1030.5,577.0 1038.5,577.0 1046.5,573.3 1054.5,570.4 1062.5,578.1 1070.5,578.3 1078.5,579.5 1086.5,579.5 1094.5,580.8 1102.5,576.6 1110.5,574.5 1118.5,574.5 1126.5,572.4 1134.5,572.4 1142.5,569.7 1150.5,570.4 1158.5,570.4 1166.5,572.4 1174.5,572.4 1182.5,574.5 1190.5,570.8 1198.5,572.4 1206.5,569.7 1214.5,568.7 1222.5,571.2 1230.5,570.4 1238.5,569.1 1246.5,560.4 1254.5,558.7 1262.5,559.4"/>
<rect x="6" y="667" width="1" height="4" fill="#c0c0c0"/>
<rect x="14" y="667" width="1" height="3" fill="#c0c0c0"/>
<rect x="22" y="667" width="1" height="5" fill="#c0c0c0"/>
<rect x="30" y="667" width="1" height="5" fill="#c0c0c0"/>
<rect x="38" y="667" width="1" height="7" fill="#c0c0c0"/>
<rect x="46" y="667" width="1" height="8" fill="#c0c0c0"/>
<rect x="54" y="667" width="1" height="9" fill="#c0c0c0"/>
<rect x="62" y="667" width="1" height="10" fill="#c0c0c0"/>
<rect x="70" y="667" width="1" height="12" fill="#c0c0c0"/>
<rect x="78" y="667" width="1" height="12" fill="#c0c0c0"/>
<rect x="86" y="667" width="1" height="13" fill="#c0c0c0"/>
<rect x="94" y="667" width="1" height="13" fill="#c0c0c0"/>
<rect x="102" y="667" width="1" height="12" fill="#c0c0c0"/>
<rect x="110" y="667" width="1" height="12" fill="#c0c0c0"/>
<rect x="118" y="667" width="1" height="12" fill="#c0c0c0"/>
<rect x="126" y="667" width="1" height="12" fill="#c0c0c0"/>
<rect x="134" y="667" width="1" height="12" fill="#c0c0c0"/>
<rect x="142" y="667" width="1" height="11" fill="#c0c0c0"/>
<rect x="150" y="667" width="1" height="10" fill="#c0c0c0"/>
<rect x="158" y="667" width="1" height="9" fill="#c0c0c0"/>
<rect x="166" y="667" width="1" height="9" fill="#c0c0c0"/>
<rect x="174" y="667" width="1" height="8" fill="#c0c0c0"/>
<rect x="182" y="667" width="1" height="8" fill="#c0c0c0"/>
<rect x="190" y="667" width="1" height="8" fill="#c0c0c0"/>
<rect x="198" y="667" width="1" height="8" fill="#c0c0c0"/>
<rect x="206" y="667" width="1" height="8" fill="#c0c0c0"/>
<rect x="214" y="667" width="1" height="10" fill="#c0c0c0"/>
<rect x="222" y="667" width="1" height="9" fill="#c0c0c0"/>
<rect x="230" y="667" width="1" height="10" fill="#c0c0c0"/>
<rect x="238" y="667" width="1" height="11" fill="#c0c0c0"/>
<rect x="246" y="667" width="1" height="12" fill="#c0c0c0"/>
<rect x="254" y="667" width="1" height="12" fill="#c0c0c0"/>
<rect x="262" y="667" width="1" height="15" fill="#c0c0c0"/>
<rect x="270" y="667" width="1" height="15" fill="#c0c0c0"/>
<rect x="278" y="667" width="1" height="15" fill="#c0c0c0"/>
<rect x="286" y="667" width="1" height="14" fill="#c0c0c0"/>
<rect x="294" y="667" width="1" height="12" fill="#c0c0c0"/>
<rect x="302" y="667" width="1" height="11" fill="#c0c0c0"/>
<rect x="310" y="667" width="1" height="10" fill="#c0c0c0"/>
<rect x="318" y="667" width="1" height="8" fill="#c0c0c0"/>
<rect x="326" y="667" width="1" height="7" fill="#c0c0c0"/>
<rect x="334" y="667" width="1" height="9" fill="#c0c0c0"/>
<rect x="342" y="667" width="1" height="9" fill="#c0c0c0"/>
<rect x="350" y="667" width="1" height="14" fill="#c0c0c0"/>
<rect x="358" y="667" width="1" height="20" fill="#c0c0c0"/>
<rect x="366" y="667" width="1" height="25" fill="#c0c0c0"/>
<rect x="374" y="667" width="1" height="28" fill="#c0c0c0"/>
<rect x="382" y="667" width="1" height="32" fill="#c0c0c0"/>
<rect x="390" y="667" width="1" height="40" fill="#c0c0c0"/>
<rect x="398" y="667" width="1" height="44" fill="#c0c0c0"/>
<rect x="406" y="667" width="1" height="47" fill="#c0c0c0"/>
<rect x="414" y="667" width="1" height="48" fill="#c0c0c0"/>
<rect x="422" y="667" width="1" height="50" fill="#c0c0c0"/>
<rect x="430" y="667" width="1" height="48" fill="#c0c0c0"/>
<rect x="438" y="667" width="1" height="47" fill="#c0c0c0"/>
<rect x="446" y="667" width="1" height="43" fill="#c0c0c0"/>
<rect x="454" y="667" width="1" height="38" fill="#c0c0c0"/>
<rect x="462" y="667" width="1" height="32" fill="#c0c0c0"/>
<rect x="470" y="667" width="1" height="28" fill="#c0c0c0"/>
<rect x="478" y="667" width="1" height="25" fill="#c0c0c0"/>
<rect x="486" y="667" width="1" height="22" fill="#c0c0c0"/>
<rect x="494" y="667" width="1" height="22" fill="#c0c0c0"/>
<rect x="502" y="667" width="1" height="20" fill="#c0c0c0"/>
<rect x="510" y="667" width="1" height="20" fill="#c0c0c0"/>
<rect x="518" y="667" width="1" height="18" fill="#c0c0c0"/>
<rect x="526" y="667" width="1" height="14" fill="#c0c0c0"/>
<rect x="534" y="667" width="1" height="12" fill="#c0c0c0"/>
<rect x="542" y="667" width="1" height="7" fill="#c0c0c0"/>
<rect x="550" y="667" width="1" height="3" fill="#c0c0c0"/>
<rect x="558" y="667" width="1" height="2" fill="#c0c0c0"/>
<rect x="566" y="663" width="1" height="5" fill="#c0c0c0"/>
<rect x="574" y="660" width="1" height="8" fill="#c0c0c0"/>
<rect x="582" y="659" width="1" height="9" fill="#c0c0c0"/>
<rect x="590" y="659" width="1" height="9" fill="#c0c0c0"/>
<rect x="598" y="658" width="1" height="10" fill="#c0c0c0"/>
<rect x="606" y="658" width="1" height="10" fill="#c0c0c0"/>
<rect x="614" y="657" width="1" height="11" fill="#c0c0c0"/>
<rect x="622" y="658" width="1" height="10" fill="#c0c0c0"/>
<rect x="630" y="658" width="1" height="10" fill="#c0c0c0"/>
<rect x="638" y="658" width="1" height="10" fill="#c0c0c0"/>
<rect x="646" y="657" width="1" height="11" fill="#c0c0c0"/>
<rect x="654" y="657" width="1" height="11" fill="#c0c0c0"/>
<rect x="662" y="656" width="1" height="12" fill="#c0c0c0"/>
<rect x="670" y="654" width="1" height="14" fill="#c0c0c0"/>
<rect x="678" y="652" width="1" height="16" fill="#c0c0c0"/>
<rect x="686" y="651" width="1" height="17" fill="#c0c0c0"/>
<rect x="694" y="653" width="1" height="15" fill="#c0c0c0"/>
<rect x="702" y="654" width="1" height="14" fill="#c0c0c0"/>
<rect x="710" y="655" width="1" height="13" fill="#c0c0c0"/>
<rect x="718" y="655" width="1" height="13" fill="#c0c0c0"/>
<rect x="726" y="656" width="1" height="12" fill="#c0c0c0"/>
<rect x="734" y="656" width="1" height="12" fill="#c0c0c0"/>
<rect x="742" y="654" width="1" height="14" fill="#c0c0c0"/>
<rect x="750" y="653" width="1" height="15" fill="#c0c0c0"/>
<rect x="758" y="654" width="1" height="14" fill="#c0c0c0"/>
<rect x="766" y="655" width="1" height="13" fill="#c0c0c0"/>
<rect x="774" y="656" width="1" height="12" fill="#c0c0c0"/>
<rect x="782" y="658" width="1" height="10" fill="#c0c0c0"/>
<rect x="790" y="660" width="1" height="8" fill="#c0c0c0"/>
<rect x="798" y="661" width="1" height="7" fill="#c0c0c0"/>
<rect x="806" y="660" width="1" height="8" fill="#c0c0c0"/>
<rect x="814" y="658" width="1" height="10" fill="#c0c0c0"/>
<rect x="822" y="657" width="1" height="11" fill="#c0c0c0"/>
<rect x="830" y="657" width="1" height="11" fill="#c0c0c0"/>
<rect x="838" y="657" width="1" height="11" fill="#c0c0c0"/>
<rect x="846" y="658" width="1" height="10" fill="#c0c0c0"/>
<rect x="854" y="658" width="1" height="10" fill="#c0c0c0"/>
<rect x="862" y="656" width="1" height="12" fill="#c0c0c0"/>
<rect x="870" y="656" width="1" height="12" fill="#c0c0c0"/>
<rect x="878" y="655" width="1" height="13" fill="#c0c0c0"/>
<rect x="886" y="654" width="1" height="14" fill="#c0c0c0"/>
<rect x="894" y="654" width="1" height="14" fill="#c0c0c0"/>
<rect x="902" y="651" width="1" height="17" fill="#c0c0c0"/>
<rect x="910" y="648" width="1" height="20" fill="#c0c0c0"/>
<rect x="918" y="644" width="1" height="24" fill="#c0c0c0"/>
<rect x="926" y="642" width="1" height="26" fill="#c0c0c0"/>
<rect x="934" y="639" width="1" height="29" fill="#c0c0c0"/>
<rect x="942" y="638" width="1" height="30" fill="#c0c0c0"/>
<rect x="950" y="637" width="1" height="31" fill="#c0c0c0"/>
<rect x="958" y="637" width="1" height="31" fill="#c0c0c0"/>
<rect x="966" y="637" width="1" height="31" fill="#c0c0c0"/>
<rect x="974" y="639" width="1" height="29" fill="#c0c0c0"/>
<rect x="982" y="641" width="1" height="27" fill="#c0c0c0"/>
<rect x="990" y="644" width="1" height="24" fill="#c0c0c0"/>
<rect x="998" y="646" width="1" height="22" fill="#c0c0c0"/>
<rect x="1006" y="647" width="1" height="21" fill="#c0c0c0"/>
<rect x="1014" y="648" width="1" height="20" fill="#c0c0c0"/>
<rect x="1022" y="650" width="1" height="18" fill="#c0c0c0"/>
<rect x="1030" y="652" width="1" height="16" fill="#c0c0c0"/>
<rect x="1038" y="653" width="1" height="15" fill="#c0c0c0"/>
<rect x="1046" y="654" width="1" height="14" fill="#c0c0c0"/>
<rect x="1054" y="653" width="1" height="15" fill="#c0c0c0"/>
<rect x="1062" y="654" width="1" height="14" fill="#c0c0c0"/>
<rect x="1070" y="656" width="1" height="12" fill="#c0c0c0"/>
<rect x="1078" y="657" width="1" height="11" fill="#c0c0c0"/>
<rect x="1086" y="658" width="1" height="10" fill="#c0c0c0"/>
<rect x="1094" y="659" width="1" height="9" fill="#c0c0c0"/>
<rect x="1102" y="659" width="1" height="9" fill="#c0c0c0"/>
<rect x="1110" y="659" width="1" height="9" fill="#c0c0c0"/>
<rect x="1118" y="659" width="1" height="9" fill="#c0c0c0"/>
<rect x="1126" y="659" width="1" height="9" fill="#c0c0c0"/>
<rect x="1134" y="659" width="1" height="9" fill="#c0c0c0"/>
<rect x="1142" y="659" width="1" height="9" fill="#c0c0c0"/>
<rect x="1150" y="658" width="1" height="10" fill="#c0c0c0"/>
<rect x="1158" y="659" width="1" height="9" fill="#c0c0c0"/>
<rect x="1166" y="659" width="1" height="9" fill="#c0c0c0"/>
<rect x="1174" y="658" width="1" height="10" fill="#c0c0c0"/>
<rect x="1182" y="659" width="1" height="9" fill="#c0c0c0"/>
<rect x="1190" y="659" width="1" height="9" fill="#c0c0c0"/>
<rect x="1198" y="659" width="1" height="9" fill="#c0c0c0"/>
<rect x="1206" y="659" width="1" height="9" fill="#c0c0c0"/>
<rect x="1214" y="658" width="1" height="10" fill="#c0c0c0"/>
<rect x="1222" y="659" width="1" height="9" fill="#c0c0c0"/>
<rect x="1230" y="659" width="1" height="9" fill="#c0c0c0"/>
<rect x="1238" y="659" width="1" height="9" fill="#c0c0c0"/>
<rect x="1246" y="658" width="1" height="10" fill="#c0c0c0"/>
<rect x="1254" y="655" width="1" height="13" fill="#c0c0c0"/>
<rect x="1262" y="654" width="1" height="14" fill="#c0c0c0"/>
<polyline fill="none" stroke="#ff0000" stroke-width="1" stroke-dasharray="3 3" points="6.5,667.4 14.5,668.4 22.5,668.4 30.5,669.4 38.5,670.4 46.5,670.4 54.5,671.3 62.5,672.4 70.5,673.4 78.5,674.4 86.5,675.3 94.5,676.3 102.5,677.3 118.5,677.3 126.5,678.3 142.5,678.3 150.5,678.4 160.9,677.3 176.5,677.3 181.7,676.3 192.1,676.3 197.3,675.3 238.8,675.3 249.2,676.3 259.6,677.3 270.0,678.4 285.6,679.4 310.5,679.3 330.1,677.4 357.4,677.4 369.2,679.3 388.7,684.4 408.3,695.6 427.9,706.3 447.4,711.2 467.0,709.3 486.5,702.8 506.1,695.6 525.7,688.7 545.2,683.2 564.8,676.6 584.3,668.8 603.9,663.3 623.5,659.4 630.5,658.4 661.6,657.0 681.2,655.9 710.5,653.5 749.6,653.1 779.0,655.1 808.3,656.4 837.7,657.8 857.2,657.8 886.6,655.9 906.1,654.5 915.9,653.1 935.5,647.6 955.3,643.5 971.9,639.4 986.5,638.3 1001.0,639.4 1028.0,643.5 1038.4,646.2 1069.6,650.8 1080.0,652.4 1100.8,655.4 1121.5,656.6 1142.3,658.1 1173.5,657.4 1225.4,657.4 1235.8,658.1 1246.2,657.4 1262.9,657.4"/>
<rect x="6" y="723" width="1" height="3" fill="#000"/>
<text x="5" y="735" font-size="9.5" fill="#000" text-anchor="start" font-weight="normal" textLength="50.92" lengthAdjust="spacingAndGlyphs" class="b" style="color:#000">22 Jan 2020</text>
<rect x="70" y="723" width="1" height="3" fill="#000"/>
<text x="69" y="735" font-size="9.5" fill="#000" text-anchor="start" font-weight="normal" textLength="50.92" lengthAdjust="spacingAndGlyphs" class="b" style="color:#000">31 Jan 2020</text>
<rect x="134" y="723" width="1" height="3" fill="#000"/>
<text x="133" y="735" font-size="9.5" fill="#000" text-anchor="start" font-weight="normal" textLength="51.94" lengthAdjust="spacingAndGlyphs" class="b" style="color:#000">10 Feb 2020</text>
<rect x="198" y="723" width="1" height="3" fill="#000"/>
<text x="197" y="735" font-size="9.5" fill="#000" text-anchor="start" font-weight="normal" textLength="51.94" lengthAdjust="spacingAndGlyphs" class="b" style="color:#000">19 Feb 2020</text>
<rect x="262" y="723" width="1" height="3" fill="#000"/>
<text x="261" y="735" font-size="9.5" fill="#000" text-anchor="start" font-weight="normal" textLength="51.94" lengthAdjust="spacingAndGlyphs" class="b" style="color:#000">28 Feb 2020</text>
<rect x="326" y="723" width="1" height="3" fill="#000"/>
<text x="325" y="735" font-size="9.5" fill="#000" text-anchor="start" font-weight="normal" textLength="46.79" lengthAdjust="spacingAndGlyphs" class="b" style="color:#000">9 Mar 2020</text>
<rect x="390" y="723" width="1" height="3" fill="#000"/>
<text x="389" y="735" font-size="9.5" fill="#000" text-anchor="start" font-weight="normal" textLength="51.93" lengthAdjust="spacingAndGlyphs" class="b" style="color:#000">18 Mar 2020</text>
<rect x="454" y="723" width="1" height="3" fill="#000"/>
<text x="453" y="735" font-size="9.5" fill="#000" text-anchor="start" font-weight="normal" textLength="51.93" lengthAdjust="spacingAndGlyphs" class="b" style="color:#000">27 Mar 2020</text>
<rect x="518" y="723" width="1" height="3" fill="#000"/>
<text x="517" y="735" font-size="9.5" fill="#000" text-anchor="start" font-weight="normal" textLength="44.74" lengthAdjust="spacingAndGlyphs" class="b" style="color:#000">6 Apr 2020</text>
<rect x="582" y="723" width="1" height="3" fill="#000"/>
<text x="581" y="735" font-size="9.5" fill="#000" text-anchor="start" font-weight="normal" textLength="49.89" lengthAdjust="spacingAndGlyphs" class="b" style="color:#000">15 Apr 2020</text>
<rect x="646" y="723" width="1" height="3" fill="#000"/>
<text x="645" y="735" font-size="9.5" fill="#000" text-anchor="start" font-weight="normal" textLength="49.89" lengthAdjust="spacingAndGlyphs" class="b" style="color:#000">24 Apr 2020</text>
<rect x="710" y="723" width="1" height="3" fill="#000"/>
<text x="709" y="735" font-size="9.5" fill="#000" text-anchor="start" font-weight="normal" textLength="48.33" lengthAdjust="spacingAndGlyphs" class="b" style="color:#000">4 May 2020</text>
<rect x="774" y="723" width="1" height="3" fill="#000"/>
<text x="773" y="735" font-size="9.5" fill="#000" text-anchor="start" font-weight="normal" textLength="53.48" lengthAdjust="spacingAndGlyphs" class="b" style="color:#000">13 May 2020</text>
<rect x="838" y="723" width="1" height="3" fill="#000"/>
<text x="837" y="735" font-size="9.5" fill="#000" text-anchor="start" font-weight="normal" textLength="53.48" lengthAdjust="spacingAndGlyphs" class="b" style="color:#000">22 May 2020</text>
<rect x="902" y="723" width="1" height="3" fill="#000"/>
<text x="901" y="735" font-size="9.5" fill="#000" text-anchor="start" font-weight="normal" textLength="45.77" lengthAdjust="spacingAndGlyphs" class="b" style="color:#000">1 Jun 2020</text>
<rect x="966" y="723" width="1" height="3" fill="#000"/>
<text x="965" y="735" font-size="9.5" fill="#000" text-anchor="start" font-weight="normal" textLength="50.92" lengthAdjust="spacingAndGlyphs" class="b" style="color:#000">10 Jun 2020</text>
<rect x="1030" y="723" width="1" height="3" fill="#000"/>
<text x="1029" y="735" font-size="9.5" fill="#000" text-anchor="start" font-weight="normal" textLength="50.92" lengthAdjust="spacingAndGlyphs" class="b" style="color:#000">19 Jun 2020</text>
<rect x="1094" y="723" width="1" height="3" fill="#000"/>
<text x="1093" y="735" font-size="9.5" fill="#000" text-anchor="start" font-weight="normal" textLength="50.92" lengthAdjust="spacingAndGlyphs" class="b" style="color:#000">29 Jun 2020</text>
<rect x="1158" y="723" width="1" height="3" fill="#000"/>
<text x="1157" y="735" font-size="9.5" fill="#000" text-anchor="start" font-weight="normal" textLength="42.68" lengthAdjust="spacingAndGlyphs" class="b" style="color:#000">8 Jul 2020</text>
<rect x="1222" y="723" width="1" height="3" fill="#000"/>
<text x="1221" y="735" font-size="9.5" fill="#000" text-anchor="start" font-weight="normal" textLength="47.83" lengthAdjust="spacingAndGlyphs" class="b" style="color:#000">17 Jul 2020</text>
<rect x="1599" y="36" width="2" height="1" fill="#000"/>
<text x="1604" y="40" font-size="9.5" fill="#000" text-anchor="start" font-weight="normal" textLength="33.43" lengthAdjust="spacingAndGlyphs" class="b" style="color:#000">0.72405</text>
<rect x="1599" y="69" width="2" height="1" fill="#000"/>
<text x="1604" y="73" font-size="9.5" fill="#000" text-anchor="start" font-weight="normal" textLength="33.43" lengthAdjust="spacingAndGlyphs" class="b" style="color:#000">0.71229</text>
<rect x="1599" y="102" width="2" height="1" fill="#000"/>
<text x="1604" y="106" font-size="9.5" fill="#000" text-anchor="start" font-weight="normal" textLength="33.43" lengthAdjust="spacingAndGlyphs" class="b" style="color:#000">0.70053</text>
<rect x="1599" y="135" width="2" height="1" fill="#000"/>
<text x="1604" y="139" font-size="9.5" fill="#000" text-anchor="start" font-weight="normal" textLength="33.43" lengthAdjust="spacingAndGlyphs" class="b" style="color:#000">0.68870</text>
<rect x="1599" y="168" width="2" height="1" fill="#000"/>
<text x="1604" y="172" font-size="9.5" fill="#000" text-anchor="start" font-weight="normal" textLength="33.43" lengthAdjust="spacingAndGlyphs" class="b" style="color:#000">0.67715</text>
<rect x="1599" y="201" width="2" height="1" fill="#000"/>
<text x="1604" y="205" font-size="9.5" fill="#000" text-anchor="start" font-weight="normal" textLength="33.43" lengthAdjust="spacingAndGlyphs" class="b" style="color:#000">0.66525</text>
<rect x="1599" y="234" width="2" height="1" fill="#000"/>
<text x="1604" y="238" font-size="9.5" fill="#000" text-anchor="start" font-weight="normal" textLength="33.43" lengthAdjust="spacingAndGlyphs" class="b" style="color:#000">0.65335</text>
<rect x="1599" y="267" width="2" height="1" fill="#000"/>
<text x="1604" y="271" font-size="9.5" fill="#000" text-anchor="start" font-weight="normal" textLength="33.43" lengthAdjust="spacingAndGlyphs" class="b" style="color:#000">0.64180</text>
<rect x="1599" y="300" width="2" height="1" fill="#000"/>
<text x="1604" y="304" font-size="9.5" fill="#000" text-anchor="start" font-weight="normal" textLength="33.43" lengthAdjust="spacingAndGlyphs" class="b" style="color:#000">0.62990</text>
<rect x="1599" y="333" width="2" height="1" fill="#000"/>
<text x="1604" y="337" font-size="9.5" fill="#000" text-anchor="start" font-weight="normal" textLength="33.43" lengthAdjust="spacingAndGlyphs" class="b" style="color:#000">0.61800</text>
<rect x="1599" y="366" width="2" height="1" fill="#000"/>
<text x="1604" y="370" font-size="9.5" fill="#000" text-anchor="start" font-weight="normal" textLength="33.43" lengthAdjust="spacingAndGlyphs" class="b" style="color:#000">0.60645</text>
<rect x="1599" y="399" width="2" height="1" fill="#000"/>
<text x="1604" y="403" font-size="9.5" fill="#000" text-anchor="start" font-weight="normal" textLength="33.43" lengthAdjust="spacingAndGlyphs" class="b" style="color:#000">0.59455</text>
<rect x="1599" y="432" width="2" height="1" fill="#000"/>
<text x="1604" y="436" font-size="9.5" fill="#000" text-anchor="start" font-weight="normal" textLength="33.43" lengthAdjust="spacingAndGlyphs" class="b" style="color:#000">0.58300</text>
<rect x="1599" y="465" width="2" height="1" fill="#000"/>
<text x="1604" y="469" font-size="9.5" fill="#000" text-anchor="start" font-weight="normal" textLength="32.75" lengthAdjust="spacingAndGlyphs" class="b" style="color:#000">0.57110</text>
<rect x="1599" y="498" width="2" height="1" fill="#000"/>
<text x="1604" y="502" font-size="9.5" fill="#000" text-anchor="start" font-weight="normal" textLength="33.43" lengthAdjust="spacingAndGlyphs" class="b" style="color:#000">0.55920</text>
<rect x="1599" y="531" width="2" height="1" fill="#000"/>
<text x="1604" y="535" font-size="9.5" fill="#000" text-anchor="start" font-weight="normal" textLength="33.43" lengthAdjust="spacingAndGlyphs" class="b" style="color:#000">0.54765</text>
<rect x="1599" y="538" width="2" height="1" fill="#000"/>
<text x="1602" y="547" font-size="9.5" fill="#000" text-anchor="start" font-weight="normal" textLength="16.02" lengthAdjust="spacingAndGlyphs" class="b" style="color:#000">100</text>
<text x="1601" y="568" font-size="9.5" fill="#000" text-anchor="start" font-weight="normal" textLength="10.68" lengthAdjust="spacingAndGlyphs" class="b" style="color:#000">70</text>
<text x="1601" y="604" font-size="9.5" fill="#000" text-anchor="start" font-weight="normal" textLength="10.68" lengthAdjust="spacingAndGlyphs" class="b" style="color:#000">30</text>
<text x="1602" y="625" font-size="9.5" fill="#000" text-anchor="start" font-weight="normal" textLength="5.34" lengthAdjust="spacingAndGlyphs" class="b" style="color:#000">0</text>
<rect x="1599" y="631" width="2" height="1" fill="#000"/>
<text x="1602" y="641" font-size="9.5" fill="#000" text-anchor="start" font-weight="normal" textLength="33.43" lengthAdjust="spacingAndGlyphs" class="b" style="color:#000">0.01574</text>
<rect x="1599" y="667" width="3" height="1" fill="#000"/>
<text x="1602" y="671" font-size="9.5" fill="#000" text-anchor="start" font-weight="normal" textLength="18.0" lengthAdjust="spacingAndGlyphs" class="b" style="color:#000">0.00</text>
<rect x="1599" y="722" width="2" height="1" fill="#000"/>
<text x="1602" y="719" font-size="9.5" fill="#000" text-anchor="start" font-weight="normal" textLength="36.51" lengthAdjust="spacingAndGlyphs" class="b" style="color:#000">-0.02441</text>
<line x1="6" y1="564.5" x2="1598" y2="564.5" stroke="#c0c0c0" stroke-dasharray="3 3"/>
<line x1="6" y1="600.5" x2="1598" y2="600.5" stroke="#c0c0c0" stroke-dasharray="3 3"/>
<text x="10" y="549" font-size="9.5" fill="#000" text-anchor="start" font-weight="normal" textLength="67.4" lengthAdjust="spacingAndGlyphs" class="b" style="color:#000">RSI(14) 76.2904</text>
<text x="10" y="643" font-size="9.5" fill="#000" text-anchor="start" font-weight="normal" textLength="147.8" lengthAdjust="spacingAndGlyphs" class="b" style="color:#000">MACD(12,26,9) 0.006126 0.004546</text>
<path d="M9 35 L16 35 L12.5 39 Z" fill="#000"/>
<text x="21.5" y="40" font-size="9.5" fill="#000" text-anchor="start" font-weight="normal" textLength="65.3" lengthAdjust="spacingAndGlyphs" class="b" style="color:#000">AUDUSD,Daily</text>
<text x="92.9" y="40" font-size="9.5" fill="#000" text-anchor="start" font-weight="normal" textLength="141" lengthAdjust="spacingAndGlyphs" class="b" style="color:#000">0.71460 0.71500 0.71305 0.71395</text>
<path d="M1274 29 L1283 29 L1278.5 34 Z" fill="#b4b4b4"/>
<rect x="1600" y="60" width="36" height="11" fill="#000000"/>
<text x="1604" y="69" font-size="9.5" fill="#ffffff" text-anchor="start" font-weight="normal" textLength="33.43" lengthAdjust="spacingAndGlyphs">0.71395</text>
<rect x="1600" y="42" width="36" height="11" fill="#ff0000"/>
<text x="1604" y="51" font-size="9.5" fill="#ffffff" text-anchor="start" font-weight="normal" textLength="33.43" lengthAdjust="spacingAndGlyphs">0.72001</text>
<rect x="1600" y="68" width="36" height="11" fill="#ff0000"/>
<text x="1604" y="77" font-size="9.5" fill="#ffffff" text-anchor="start" font-weight="normal" textLength="33.43" lengthAdjust="spacingAndGlyphs">0.71046</text>
<rect x="1600" y="98" width="36" height="11" fill="#00ff00"/>
<text x="1604" y="107" font-size="9.5" fill="#ffffff" text-anchor="start" font-weight="normal" textLength="33.43" lengthAdjust="spacingAndGlyphs">0.70007</text>
<rect x="1600" y="125" width="36" height="11" fill="#0000ff"/>
<text x="1604" y="134" font-size="9.5" fill="#ffffff" text-anchor="start" font-weight="normal" textLength="33.43" lengthAdjust="spacingAndGlyphs">0.69010</text>
<rect x="1600" y="153" width="36" height="11" fill="#0000ff"/>
<text x="1604" y="162" font-size="9.5" fill="#ffffff" text-anchor="start" font-weight="normal" textLength="33.43" lengthAdjust="spacingAndGlyphs">0.68017</text>
<rect x="1600" y="190" width="36" height="11" fill="#0000ff"/>
<text x="1604" y="199" font-size="9.5" fill="#ffffff" text-anchor="start" font-weight="normal" textLength="33.43" lengthAdjust="spacingAndGlyphs">0.66706</text>
<rect x="1600" y="237" width="36" height="11" fill="#0000ff"/>
<text x="1604" y="246" font-size="9.5" fill="#ffffff" text-anchor="start" font-weight="normal" textLength="33.43" lengthAdjust="spacingAndGlyphs">0.65020</text>
</svg></body></html>
